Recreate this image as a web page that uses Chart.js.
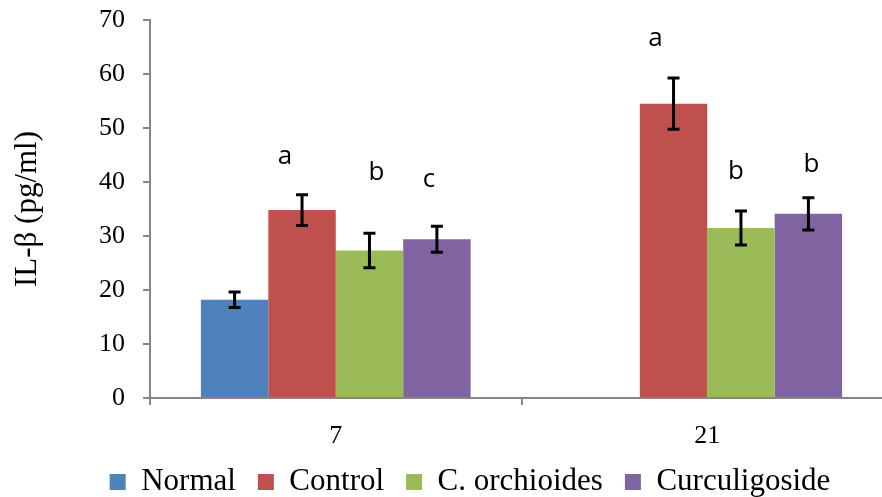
<!DOCTYPE html>
<html><head><meta charset="utf-8">
<script src="https://cdn.jsdelivr.net/npm/chart.js@4"></script>
<style>
html,body{margin:0;padding:0;overflow:hidden;background:#fff;width:882px;height:497px}
#wrap{position:absolute;left:0;top:0;width:893px;height:520px}
</style>
</head><body><div id="wrap"><canvas id="c"></canvas></div>
<script>
// ---- data ----
const days = ['7', '21'];
const seriesNames = ['Normal', 'Control', 'C. orchioides', 'Curculigoside'];
const normal = [18.2, 0];
const control = [34.8, 54.5];
const orchioides = [27.3, 31.5];
const curculigoside = [29.4, 34.1];
const normalErr = [1.45, 0];
const controlErr = [2.85, 4.75];
const orchioidesErr = [3.2, 3.15];
const curculigosideErr = [2.4, 3.0];
const normalLetters = ['', ''];
const controlLetters = ['a', 'a'];
const orchioidesLetters = ['b', 'b'];
const curculigosideLetters = ['c', 'b'];
const normalLetterAt = [null, null];
const controlLetterAt = [43.4, 65.2];
const orchioidesLetterAt = [40.3, 40.5];
const curculigosideLetterAt = [39.0, 41.8];
const yMin = 0, yMax = 70, yStep = 10;
const yTitle = 'IL-\u03B2 (pg/ml)';

// ---- styles ----
const colors = ['#4F81BD', '#C0504D', '#9BBB59', '#8064A2'];
const letterShift = [[0, 0], [-17, -18], [7, -5], [-8, 3]];
const axisGray = '#868686';
const serif = '"Liberation Serif", "Times New Roman", serif';

const values = [normal, control, orchioides, curculigoside];
const errs = [normalErr, controlErr, orchioidesErr, curculigosideErr];
const letters = [normalLetters, controlLetters, orchioidesLetters, curculigosideLetters];
const letterAt = [normalLetterAt, controlLetterAt, orchioidesLetterAt, curculigosideLetterAt];

const datasets = seriesNames.map((name, i) => ({
  label: name,
  data: values[i],
  errors: errs[i],
  letters: letters[i],
  letterAt: letterAt[i],
  letterShift: letterShift[i],
  backgroundColor: colors[i],
  borderWidth: 0,
  barPercentage: 1,
  categoryPercentage: 0.726
}));

const errorBars = {
  id: 'errorBars',
  afterDatasetsDraw(chart) {
    const ctx = chart.ctx, y = chart.scales.y;
    ctx.save();
    ctx.strokeStyle = '#000';
    ctx.lineWidth = 3;
    chart.data.datasets.forEach((ds, i) => {
      const meta = chart.getDatasetMeta(i);
      meta.data.forEach((el, j) => {
        const v = ds.data[j], e = ds.errors[j];
        if (v == null || !e) return;
        const x = el.x;
        const yt = y.getPixelForValue(v + e), yb = y.getPixelForValue(v - e);
        ctx.beginPath();
        ctx.moveTo(x, yt); ctx.lineTo(x, yb);
        ctx.moveTo(x - 6, yt); ctx.lineTo(x + 6, yt);
        ctx.moveTo(x - 6, yb); ctx.lineTo(x + 6, yb);
        ctx.stroke();
      });
    });
    ctx.restore();
  }
};

const letterMarks = {
  id: 'letterMarks',
  afterDatasetsDraw(chart) {
    const ctx = chart.ctx, y = chart.scales.y;
    ctx.save();
    ctx.fillStyle = '#000';
    ctx.font = '26px "Open Sans", "Liberation Sans", sans-serif';
    ctx.textAlign = 'center';
    ctx.textBaseline = 'alphabetic';
    chart.data.datasets.forEach((ds, i) => {
      const meta = chart.getDatasetMeta(i);
      meta.data.forEach((el, j) => {
        const t = ds.letters[j];
        if (!t || ds.letterAt[j] == null) return;
        ctx.fillText(t, el.x + ds.letterShift[j], y.getPixelForValue(ds.letterAt[j]));
      });
    });
    ctx.restore();
  }
};

new Chart(document.getElementById('c'), {
  type: 'bar',
  data: { labels: days, datasets },
  options: {
    responsive: true,
    maintainAspectRatio: false,
    animation: false,
    layout: { padding: { left: 47, top: 20, right: 0, bottom: 12.5 } },
    plugins: {
      tooltip: { enabled: false },
      legend: {
        position: 'bottom',
        labels: {
          font: { family: serif, size: 31 },
          color: '#000',
          boxWidth: 16,
          boxHeight: 16,
          padding: 22
        }
      }
    },
    scales: {
      x: {
        grid: { display: true, drawOnChartArea: false, drawTicks: true, tickLength: 7, color: axisGray, lineWidth: 2, offset: true },
        border: { color: axisGray, width: 2 },
        ticks: { font: { family: serif, size: 26 }, color: '#000', padding: 16 },
        afterFit(s) { s.height = 46.5; }
      },
      y: {
        min: yMin, max: yMax,
        ticks: { stepSize: yStep, font: { family: serif, size: 26 }, color: '#000', padding: 18 },
        grid: { display: true, drawOnChartArea: false, drawTicks: true, tickLength: 7, color: axisGray, lineWidth: 2 },
        border: { color: axisGray, width: 2 },
        title: { display: true, text: yTitle, font: { family: serif, size: 31 }, color: '#000', padding: { top: -38, bottom: 0 } },
        afterFit(s) { s.width = 103; s.paddingTop = 0; s.paddingBottom = 0; }
      }
    }
  },
  plugins: [errorBars, letterMarks]
});
</script>
</body></html>
